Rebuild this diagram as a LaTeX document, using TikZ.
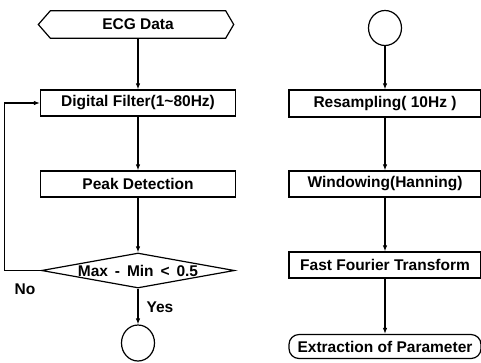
\documentclass[tikz,border=0pt]{standalone}
\usepackage{fontspec}
\setmainfont{Liberation Sans}
\usetikzlibrary{shapes.geometric,arrows.meta}
\begin{document}
\begin{tikzpicture}[x=1bp,y=-1bp,
  every node/.style={font=\fontsize{15.5bp}{18bp}\selectfont\bfseries, inner sep=0pt},
  procbox/.style={draw, rectangle, line width=1.2bp, minimum height=26bp},
  leftbox/.style={procbox, minimum width=195bp},
  rightbox/.style={procbox, minimum width=192bp},
  termc/.style={draw, ellipse, line width=1.2bp, minimum width=33bp, minimum height=36bp},
  decision/.style={draw, diamond, line width=1.2bp, minimum width=193bp, minimum height=35bp},
  flow/.style={line width=1.2bp, -{Latex[length=6bp,width=4.5bp]}},
]
\useasboundingbox (0,0) rectangle (481,362);

% left column
\node (ecg) [minimum width=175bp, minimum height=27bp] at (138,24.5) {ECG Data};
\draw[line width=1.2bp] (ecg.north west) -- (ecg.north east) -- ([xshift=8bp]ecg.east)
  -- (ecg.south east) -- (ecg.south west) -- ([xshift=-12bp]ecg.west) -- cycle;
\node (filt) [leftbox] at (138,103) {Digital Filter(1\textasciitilde80Hz)};
\node (peak) [leftbox] at (138,184) {Peak Detection};
\node (dec) [decision] at (138,270.5) {};
\node (dect) at (dec.center) {Max\,\ -\,\ Min\,\ <\,\ 0.5};
\node (endc) [termc] at (138,343) {};
\node (no) at (25,289) {No};
\node (yes) at (160,307) {Yes};

\draw[flow] (ecg.south) -- (filt.north);
\draw[flow] (filt.south) -- (peak.north);
\draw[flow] (peak.south) -- (dec.north);
\draw[flow] (dec.south) -- (endc.north);
\draw[flow] (dec.west) -- ++(-36,0) |- (filt.west);

% right column
\node (startc) [termc, minimum width=33bp, minimum height=35bp] at (385,28) {};
\node (res) [rightbox, minimum height=27bp] at (385,103.5) {Resampling( 10Hz )};
\node (win) [rightbox] at (385,184) {Windowing(Hanning)};
\node (fft) [rightbox] at (385,265) {Fast Fourier Transform};
\node (ext) [rightbox, minimum height=24bp, rounded corners=10bp] at (385,346.5) {Extraction of Parameter};

\draw[flow] (startc.south) -- (res.north);
\draw[flow] (res.south) -- (win.north);
\draw[flow] (win.south) -- (fft.north);
\draw[flow] (fft.south) -- (ext.north);
\end{tikzpicture}
\end{document}
